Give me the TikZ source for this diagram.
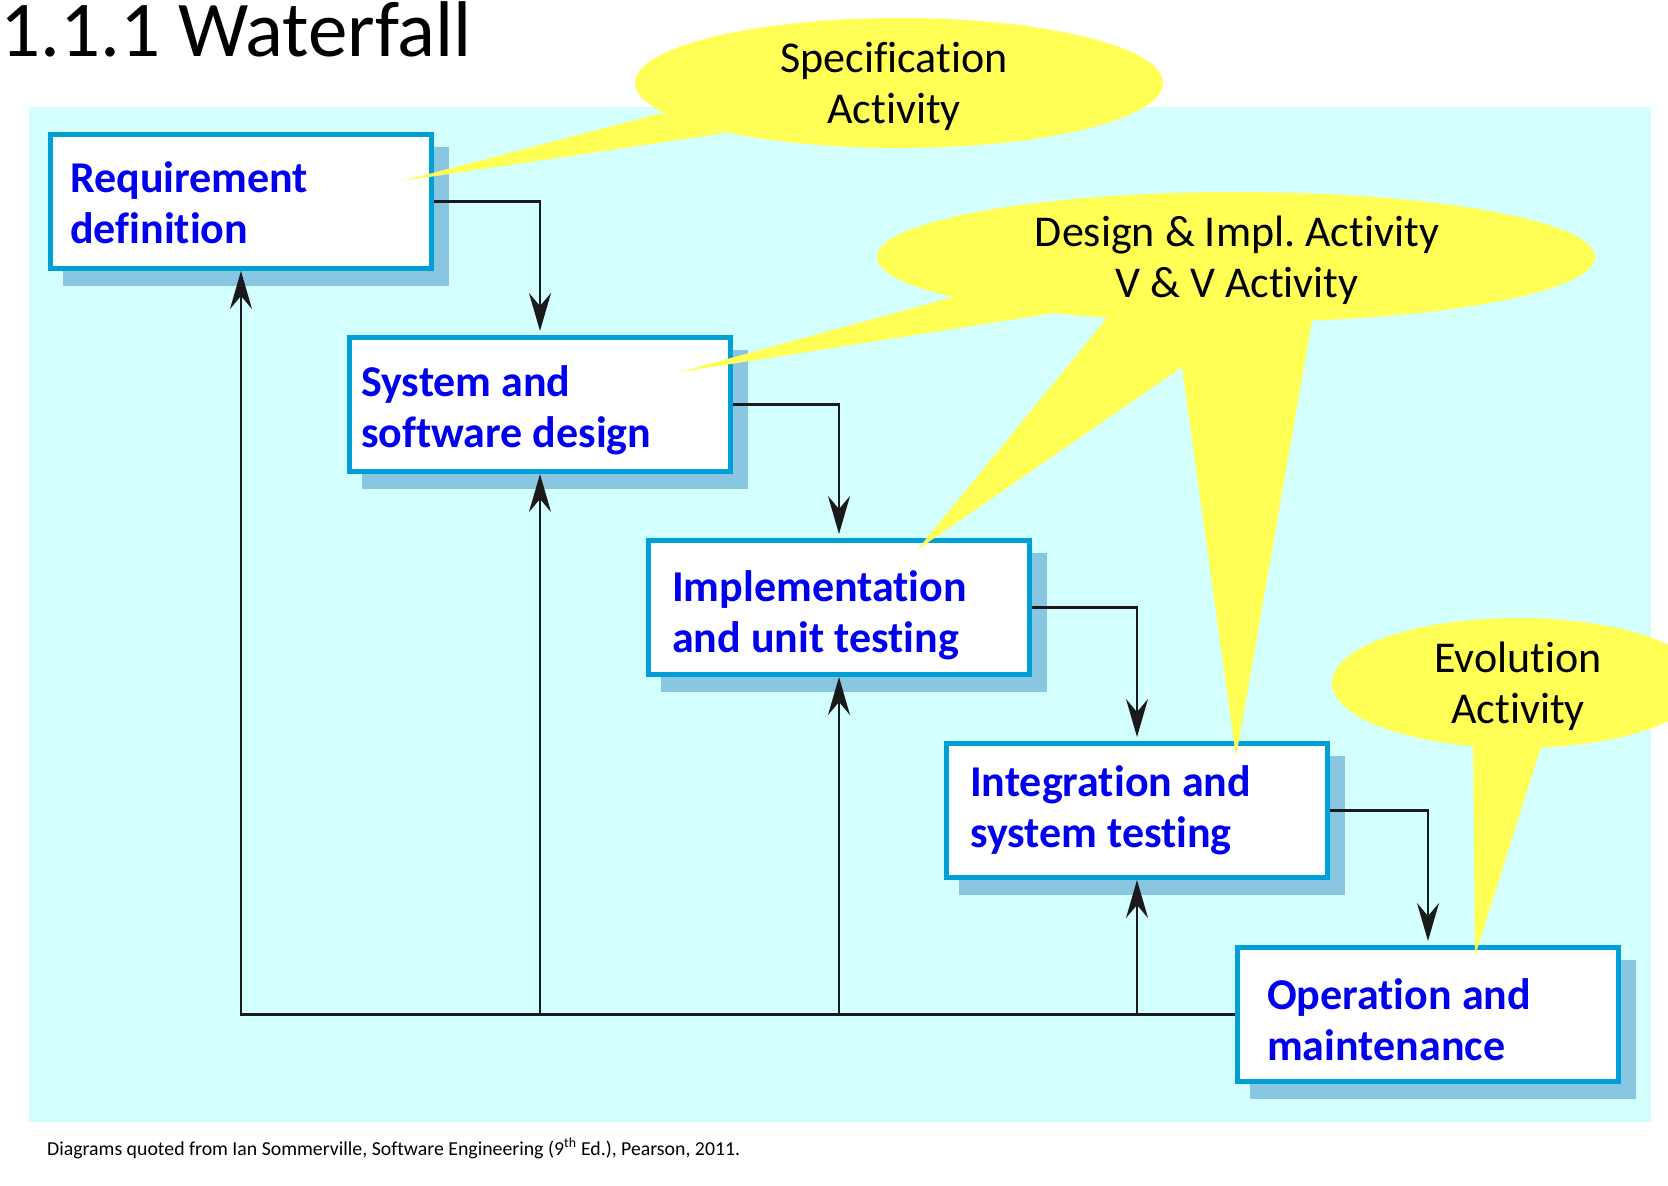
\documentclass[tikz,border=0pt]{standalone}
\usepackage{fontspec}
\setmainfont{Carlito}[Ligatures=NoCommon]
\usetikzlibrary{arrows.meta,backgrounds}
\definecolor{bgcyan}{RGB}{212,255,255}
\definecolor{boxblue}{RGB}{0,160,214}
\definecolor{shadowblue}{RGB}{136,198,226}
\definecolor{calloutyellow}{RGB}{255,255,85}
\definecolor{textblue}{RGB}{0,0,238}
\definecolor{lineblack}{RGB}{26,26,26}
\tikzset{
  stagebox/.style={draw=boxblue, line width=5pt, fill=white, minimum width=381pt,
    minimum height=134pt, inner sep=0pt, anchor=north west},
  stagetext/.style={anchor=base west, inner sep=0pt, text=textblue,
    font=\bfseries\fontsize{44}{51.5}\selectfont},
  calltext/.style={anchor=base, inner sep=0pt, text=black,
    font=\fontsize{44}{51}\selectfont},
  conn/.style={draw=lineblack, line width=2.5pt,
    -{Stealth[length=38pt,width=22pt,inset=13pt]}},
  callout/.style={fill=calloutyellow}
}
\newcommand{\twolines}[2]{\parbox[t]{360pt}{\raggedright #1\\#2}}
\newcommand{\twocenter}[2]{\parbox[t]{500pt}{\centering #1\\#2}}
\frenchspacing
\begin{document}
\begin{tikzpicture}[x=1pt,y=-1pt]
\useasboundingbox (0,0) rectangle (1668,1186);
\clip (0,0) rectangle (1668,1186);

% title
\node[anchor=base west, inner sep=0pt, font=\fontsize{79}{90}\selectfont] (title) at (0,56) {1.1.1 Waterfall};

% stage boxes
\node[stagebox] (b1) at (48,132) {};
\node[stagebox] (b2) at (347,335) {};
\node[stagebox] (b3) at (646,538) {};
\node[stagebox] (b4) at (944,741) {};
\node[stagebox] (b5) at (1235,945) {};

% background and shadows
\begin{scope}[on background layer]
  \fill[white] (0,0) rectangle (1668,1186);
  \fill[bgcyan] (29,107) rectangle (1651,1122);
  \foreach \b in {b1,b2,b3,b4,b5}{
    \fill[shadowblue] ([shift={(15pt,-15pt)}]\b.north west) rectangle ([shift={(15pt,-15pt)}]\b.south east);
  }
\end{scope}

% stage texts
\node[stagetext] (t1) at (70,192) {\twolines{Requirement}{definition}};
\node[stagetext] (t2) at (361,396) {\twolines{System and}{software design}};
\node[stagetext] (t3) at (672,601) {\twolines{Implementation}{and unit testing}};
\node[stagetext] (t4) at (970,796) {\twolines{Integration and}{system testing}};
\node[stagetext] (t5) at (1267,1009) {\twolines{Operation and}{maintenance}};

% forward connectors
\draw[conn, shorten >=4pt] (b1.east) -| (b2.north);
\draw[conn, shorten >=4pt] (b2.east) -| (b3.north);
\draw[conn, shorten >=4pt] (b3.east) -| (b4.north);
\draw[conn, shorten >=4pt] (b4.east) -| (b5.north);

% feedback connectors
\draw[conn] (b5.west) -| (b1.south);
\draw[conn] (b5.west -| b2.south) -- (b2.south);
\draw[conn] (b5.west -| b3.south) -- (b3.south);
\draw[conn] (b5.west -| b4.south) -- (b4.south);

% callout: specification
\fill[callout] (899,83) ellipse [x radius=264, y radius=65];
\fill[callout] (662,113) -- (402,181) -- (725,133) -- cycle;
\node[calltext] (c1) at (894,72) {\twocenter{Specification}{Activity}};

% callout: design & V&V
\fill[callout] (1236,257) ellipse [x radius=359, y radius=65];
\fill[callout] (953,297) -- (680,372) -- (1054,313) -- cycle;
\fill[callout] (1107,318) -- (917,550) -- (1182,367) -- (1236,757) -- (1312,321) -- cycle;
\node[calltext] (c2) at (1237,246) {\twocenter{Design \& Impl. Activity}{V \& V Activity}};

% callout: evolution
\fill[callout] (1518,683) ellipse [x radius=186, y radius=65];
\fill[callout] (1473,740) -- (1475,956) -- (1543,740) -- cycle;
\node[calltext] (c3) at (1518,672) {\twocenter{Evolution}{Activity}};

% footer
\node[anchor=base west, inner sep=0pt, font=\fontsize{19.8}{23}\selectfont] (foot) at (47,1155)
  {Diagrams quoted from Ian Sommerville, Software Engineering (9\textsuperscript{th} Ed.), Pearson, 2011.};
\end{tikzpicture}
\end{document}
